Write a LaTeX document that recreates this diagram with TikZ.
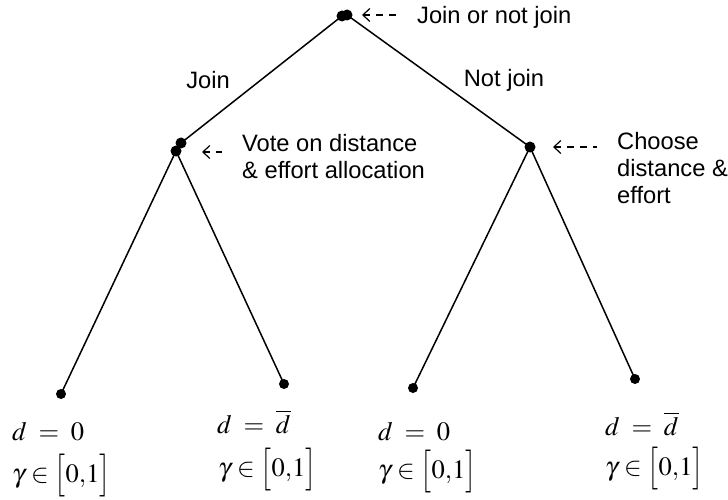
\documentclass[tikz,border=0pt]{standalone}
\usepackage{mathptmx}
\usepackage{graphicx}
\usepackage[no-math]{fontspec}
\setmainfont{Liberation Sans}
\usetikzlibrary{arrows.meta}

% tall square brackets of the payoff intervals
\newcommand{\brkopen}{\mathopen{\vcenter{\hbox{\scalebox{1}[1.35]{$\bigl[$}}}}}
\newcommand{\brkclose}{\mathclose{\vcenter{\hbox{\scalebox{1}[1.35]{$\bigr]$}}}}}
\newcommand{\eqsp}{\mskip4mu=\mskip4mu}

\tikzset{
  dot/.style={circle,fill,inner sep=0pt,minimum size=11pt},
  leaf/.style={circle,fill,inner sep=0pt,minimum size=10pt},
  branch/.style={line width=1.5pt},
  pointer/.style={{Straight Barb[length=7pt,width=13pt]}-,dash pattern=on 7pt off 6pt,line width=1.2pt,shorten >=20pt},
  note/.style={font=\fontsize{23.7}{27}\selectfont,align=left,anchor=west,inner sep=0pt},
  move/.style={font=\fontsize{23.7}{27}\selectfont,inner sep=0pt},
  payoff/.style={font=\fontsize{26.5}{30}\selectfont,anchor=base west,inner sep=0pt}
}

\begin{document}
\begin{tikzpicture}[x=1pt,y=-1pt]
\useasboundingbox (0,0) rectangle (728,500);

% decision nodes
\node[dot] (root) at (347,15) {};
\node[dot] (root2) at (342,16) {};
\node[dot] (join) at (181,143) {};
\node[dot] (join2) at (176,151) {};
\node[dot] (notjoin) at (530,147) {};

% terminal nodes
\node[leaf] (ll) at (61,394) {};
\node[leaf] (lr) at (284,384) {};
\node[leaf] (rl) at (413,388) {};
\node[leaf] (rr) at (635,379) {};

% branches
\draw[branch] (root2.center) -- (join.center);
\draw[branch] (root.center) -- (notjoin.center);
\draw[branch] (join2.center) -- (ll.center);
\draw[branch] (join2.center) -- (lr.center);
\draw[branch] (notjoin.center) -- (rl.center);
\draw[branch] (notjoin.center) -- (rr.center);

\node[move] (joinlbl) at (208,80) {Join};
\node[move] (notjoinlbl) at (504,80) {Not join};

% notes with dashed pointers
\node[note] (rootnote) at (417,17) {Join or not join};
\node[note] (joinnote) at (242,157) {Vote on distance\\\& effort allocation};
\node[note] (notjoinnote) at (617,168) {Choose\\distance \&\\effort};

\coordinate (roottip) at (362,15);
\coordinate (jointip) at (202,152);
\coordinate (notjointip) at (553,147);
\draw[pointer] (roottip) -- (roottip -| rootnote.west);
\draw[pointer] (jointip) -- (jointip -| joinnote.west);
\draw[pointer] (notjointip) -- (notjointip -| notjoinnote.west);

% payoffs
\node[payoff] (ll0) at (12,440) {$d\eqsp0$};
\node[payoff] (ll1) at (12,482) {$\gamma\in\brkopen0{,}1\brkclose$};
\node[payoff] (lr0) at (217,433) {$d\eqsp\overline{d}$};
\node[payoff] (lr1) at (218,476) {$\gamma\in\brkopen0{,}1\brkclose$};
\node[payoff] (rl0) at (378,440) {$d\eqsp0$};
\node[payoff] (rl1) at (378,478) {$\gamma\in\brkopen0{,}1\brkclose$};
\node[payoff] (rr0) at (605,435) {$d\eqsp\overline{d}$};
\node[payoff] (rr1) at (605,475) {$\gamma\in\brkopen0{,}1\brkclose$};
\end{tikzpicture}
\end{document}
